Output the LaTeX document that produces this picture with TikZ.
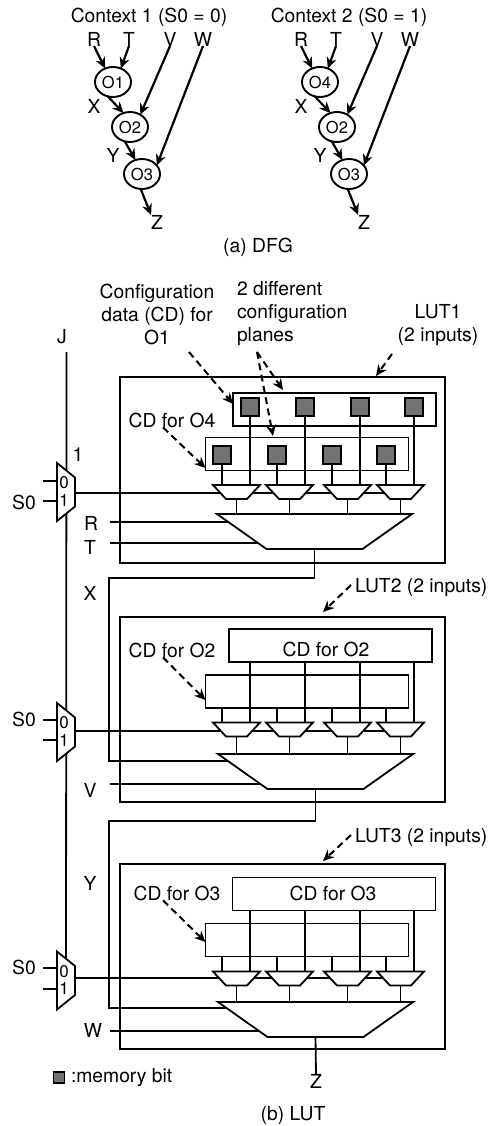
\documentclass[tikz,border=0pt]{standalone}
\usepackage{fontspec}
\setmainfont{TeX Gyre Heros}
\usetikzlibrary{positioning}
\usetikzlibrary{shapes.geometric}
\usetikzlibrary{arrows.meta}
\tikzset{
    >={Stealth[length=11pt,width=10pt]},
%
    % Plain text everywhere
    every node/.style={font=\fontsize{19.3}{23}\selectfont, inner sep=0, outer sep=0},
%
    % Operations of the data flow graphs
    op node/.style={draw, line width=1.9pt, ellipse, minimum width=36pt, minimum height=30pt,
        font=\fontsize{16.5}{20}\selectfont},
    flow/.style={line width=2.2pt, ->},
%
    % Boxes of the LUT part
    lut box/.style={draw, line width=1.8pt, minimum width=325pt, minimum height=185pt},
    plane box/.style={draw, line width=1.8pt, minimum width=203pt, minimum height=33pt},
    bit box/.style={draw, line width=1.8pt, fill=black!55, minimum width=18pt, minimum height=18pt},
    wire/.style={line width=1.8pt},
    pointer/.style={line width=2pt, dash pattern=on 7pt off 4.5pt, ->},
%
    % Multiplexers, the wide side is the input side
    small mux/.style={draw, line width=1.8pt, fill=white, trapezium, shape border rotate=180,
        inner sep=1pt, trapezium stretches=true, trapezium angle=58.3,
        minimum width=47pt, minimum height=14pt},
    big mux/.style={draw, line width=1.8pt, fill=white, trapezium, shape border rotate=180,
        inner sep=1pt, trapezium stretches=true, trapezium angle=62.7,
        minimum width=195pt, minimum height=35pt},
    side mux/.style={draw, line width=1.8pt, fill=white, trapezium, shape border rotate=270,
        inner sep=1pt, trapezium stretches=true, trapezium angle=63.4,
        minimum width=58pt, minimum height=18pt},
    mux digit/.style={font=\fontsize{17}{17}\selectfont}}
\pgfdeclarelayer{background}
\pgfsetlayers{background,main}

\begin{document}
\begin{tikzpicture}[x=1pt, y=-1pt]

\useasboundingbox (0,0) rectangle (489,1126);

% Context 1

\node (ctxa) at (149,17) {Context 1 (S0 = 0)};
\node (Ra) at (94,39) {R};
\node (Ta) at (129,39) {T};
\node (Va) at (170,39) {V};
\node (Wa) at (203,39) {W};
\node [op node] (O1a) at (113,82) {O1};
\node [op node] (O2a) at (130,127) {O2};
\node [op node] (O3a) at (142,174) {O3};
\node (Xa) at (94,106) {X};
\node (Ya) at (113,155) {Y};
\node (Za) at (157,222) {Z};

\draw [flow] (Ra.south) -- (O1a.120);
\draw [flow] (Ta.south) -- (O1a.60);
\draw [flow] (Va.south) -- (O2a.50);
\draw [flow] (Wa.south) -- (O3a.30);
\draw [flow] (O1a.250) -- (O2a.115);
\draw [flow] (O2a.250) -- (O3a.115);
\draw [flow] (O3a.265) -- (Za.north west);

% Context 2

\node (ctxb) at (349,17) {Context 2 (S0 = 1)};
\node (Rb) at (301,39) {R};
\node (Tb) at (336,39) {T};
\node (Vb) at (377,39) {V};
\node (Wb) at (410,39) {W};
\node [op node] (O1b) at (320,82) {O4};
\node [op node] (O2b) at (337,127) {O2};
\node [op node] (O3b) at (349,174) {O3};
\node (Xb) at (301,106) {X};
\node (Yb) at (320,155) {Y};
\node (Zb) at (364,222) {Z};

\draw [flow] (Rb.south) -- (O1b.120);
\draw [flow] (Tb.south) -- (O1b.60);
\draw [flow] (Vb.south) -- (O2b.50);
\draw [flow] (Wb.south) -- (O3b.30);
\draw [flow] (O1b.250) -- (O2b.115);
\draw [flow] (O2b.250) -- (O3b.115);
\draw [flow] (O3b.265) -- (Zb.north west);

\node (dfg) at (258,247) {(a) DFG};

% Labels above the first LUT

\node [align=center] (cdlabel) at (157,314) {Configuration\\data (CD) for\\O1};
\node [align=left, anchor=west] (planes) at (237,314) {2 different\\configuration\\planes};
\node [align=center] (luta label) at (438,325) {LUT1\\(2 inputs)};
\node (J) at (62,337) {J};

% LUT1

\node [lut box, minimum height=186pt] (luta) at (282.5,470) {};
\node [plane box] (upa) at (334.5,409.5) {};
\node [plane box] (lowa) at (307,454) {};

\node [bit box] (bita1) at (250,407) {};
\node [bit box] (bita2) at (305,407) {};
\node [bit box] (bita3) at (360,407) {};
\node [bit box] (bita4) at (414,407) {};
\node [bit box] (bita5) at (222,455) {};
\node [bit box] (bita6) at (277,455) {};
\node [bit box] (bita7) at (332,455) {};
\node [bit box] (bita8) at (386,455) {};

\node [small mux] (muxa1) at (236.5,492) {};
\node [small mux] (muxa2) at (289.5,492) {};
\node [small mux] (muxa3) at (347.5,492) {};
\node [small mux] (muxa4) at (400.5,492) {};
\node [big mux] (biga) at (314.5,531.5) {};

\node [side mux] (sidea) at (66,492) {};
\node [mux digit] (sidea0) at (64,483) {0};
\node [mux digit] (sidea1) at (64,500) {1};
\node (onea) at (78,455) {1};
\node (S0a) at (24,502) {S0};
\node (Ra2) at (91,523) {R};
\node (Ta2) at (90,547) {T};
\node (Xc) at (90,593) {X};

\node (cdO4) at (172,420) {CD for O4};

% LUT2

\node [anchor=west] (lutb label) at (355,588) {LUT2 (2 inputs)};
\node [lut box] (lutb) at (282.5,709.5) {};
\node [plane box] (upb) at (330.5,645.5) {};
\node [plane box] (lowb) at (307,691.5) {};
\node (upb text) at (326,649) {CD for O2};
\node (cdO2) at (172,650) {CD for O2};

\node [small mux] (muxb1) at (236.5,729.5) {};
\node [small mux] (muxb2) at (289.5,729.5) {};
\node [small mux] (muxb3) at (347.5,729.5) {};
\node [small mux] (muxb4) at (400.5,729.5) {};
\node [big mux] (bigb) at (315.5,771.5) {};

\node [side mux] (sideb) at (66,732) {};
\node [mux digit] (sideb0) at (64,723) {0};
\node [mux digit] (sideb1) at (64,740) {1};
\node (S0b) at (24,719) {S0};
\node (Vc) at (90,790) {V};
\node (Yc) at (90,883) {Y};

% LUT3

\node [anchor=west] (lutc label) at (355,838) {LUT3 (2 inputs)};
\node [lut box] (lutc) at (282.5,956.5) {};
\node [plane box] (upc) at (334,894) {};
\node [plane box] (lowc) at (307,940) {};
\node (upc text) at (333,893) {CD for O3};
\node (cdO3) at (177,893) {CD for O3};

\node [small mux] (muxc1) at (236.5,978.5) {};
\node [small mux] (muxc2) at (289.5,978.5) {};
\node [small mux] (muxc3) at (347.5,978.5) {};
\node [small mux] (muxc4) at (400.5,978.5) {};
\node [big mux] (bigc) at (315.5,1019.5) {};

\node [side mux] (sidec) at (66,980.5) {};
\node [mux digit] (sidec0) at (64,972) {0};
\node [mux digit] (sidec1) at (64,988) {1};
\node (S0c) at (24,967) {S0};
\node (Wc) at (93,1030) {W};
\node (Zc) at (316,1081) {Z};

% Legend and caption

\node [bit box, line width=1.2pt, minimum width=11pt, minimum height=11pt] (legend) at (59,1077.5) {};
\node [anchor=west] (legend text) at (71,1078) {:memory bit};
\node (lutcap) at (293,1115) {(b) LUT};

% Wires stay behind the multiplexers

\begin{pgfonlayer}{background}
\draw [wire] (66.5,352) coordinate (Jtop) -- (sidec.center);

% LUT1 wires
\draw [wire]
    (bita1.south) -- (bita1.south |- muxa1.north)
    (bita2.south) -- (bita2.south |- muxa1.north)
    (bita3.south) -- (bita3.south |- muxa1.north)
    (bita4.south) -- (bita4.south |- muxa1.north)
    (bita5.south) -- (bita5.south |- muxa1.north)
    (bita6.south) -- (bita6.south |- muxa1.north)
    (bita7.south) -- (bita7.south |- muxa1.north)
    (bita8.south) -- (bita8.south |- muxa1.north)
    (muxa1.south) -- (muxa1.south |- biga.north)
    (muxa2.south) -- (muxa2.south |- biga.north)
    (muxa3.south) -- (muxa3.south |- biga.north)
    (muxa4.south) -- (muxa4.south |- biga.north);
\draw [wire] (43,481) -- (sidea.center |- 0,481);
\draw [wire] (43,501) -- (sidea.center |- 0,501);
\draw [wire] (sidea.center |- 0,493) -- (muxa4.center |- 0,493);
\draw [wire] (110,522) coordinate (Rin) -- (Rin -| biga.center);
\draw [wire] (110,543) coordinate (Tin) -- (Tin -| biga.center);
\draw [wire] (biga.south) -- (biga.south |- 0,578) -- (109,578) -- (109,761)
    -- (bigb.center |- 0,761);

% LUT2 wires
\draw [wire]
    (250,0 |- upb.south) -- (250,0 |- muxb1.north)
    (305,0 |- upb.south) -- (305,0 |- muxb1.north)
    (360,0 |- upb.south) -- (360,0 |- muxb1.north)
    (414,0 |- upb.south) -- (414,0 |- muxb1.north)
    (222,0 |- lowb.south) -- (222,0 |- muxb1.north)
    (277,0 |- lowb.south) -- (277,0 |- muxb1.north)
    (332,0 |- lowb.south) -- (332,0 |- muxb1.north)
    (386,0 |- lowb.south) -- (386,0 |- muxb1.north)
    (muxb1.south) -- (muxb1.south |- bigb.north)
    (muxb2.south) -- (muxb2.south |- bigb.north)
    (muxb3.south) -- (muxb3.south |- bigb.north)
    (muxb4.south) -- (muxb4.south |- bigb.north);
\draw [wire] (43,720) -- (sideb.center |- 0,720);
\draw [wire] (43,740) -- (sideb.center |- 0,740);
\draw [wire] (sideb.center |- 0,731) -- (muxb4.center |- 0,731);
\draw [wire] (110,784) coordinate (Vin) -- (Vin -| bigb.center);
\draw [wire] (bigb.south) -- (bigb.south |- 0,821) -- (109,821) -- (109,1008)
    -- (bigc.center |- 0,1008);

% LUT3 wires
\draw [wire]
    (250,0 |- upc.south) -- (250,0 |- muxc1.north)
    (305,0 |- upc.south) -- (305,0 |- muxc1.north)
    (360,0 |- upc.south) -- (360,0 |- muxc1.north)
    (414,0 |- upc.south) -- (414,0 |- muxc1.north)
    (222,0 |- lowc.south) -- (222,0 |- muxc1.north)
    (277,0 |- lowc.south) -- (277,0 |- muxc1.north)
    (332,0 |- lowc.south) -- (332,0 |- muxc1.north)
    (386,0 |- lowc.south) -- (386,0 |- muxc1.north)
    (muxc1.south) -- (muxc1.south |- bigc.north)
    (muxc2.south) -- (muxc2.south |- bigc.north)
    (muxc3.south) -- (muxc3.south |- bigc.north)
    (muxc4.south) -- (muxc4.south |- bigc.north);
\draw [wire] (43,968) -- (sidec.center |- 0,968);
\draw [wire] (43,989) -- (sidec.center |- 0,989);
\draw [wire] (sidec.center |- 0,978) -- (muxc4.center |- 0,978);
\draw [wire] (110,1031) coordinate (Win) -- (Win -| bigc.center);
\draw [wire] (bigc.south) -- (Zc.north);
\end{pgfonlayer}

% Dashed pointers

\draw [pointer] (189,352) coordinate (cdstart) -- (upa.west |- 0,404);
\draw [pointer] (257,352) coordinate (planestart) -- (283,390);
\draw [pointer] (planestart) -- (273,436);
\draw [pointer] (392,354) coordinate (lutastart) -- (376,376);
\draw [pointer] (cdO4.south -| 163,0) -- (lowa.west |- 0,468);
\draw [pointer] (351,585) coordinate (lutbstart) -- (323,612);
\draw [pointer] (cdO2.south -| 163,0) -- (lowb.west |- 0,700);
\draw [pointer] (351,835) coordinate (lutcstart) -- (323,861);
\draw [pointer] (cdO3.south -| 163,0) -- (lowc.west |- 0,942);

\end{tikzpicture}
\end{document}
